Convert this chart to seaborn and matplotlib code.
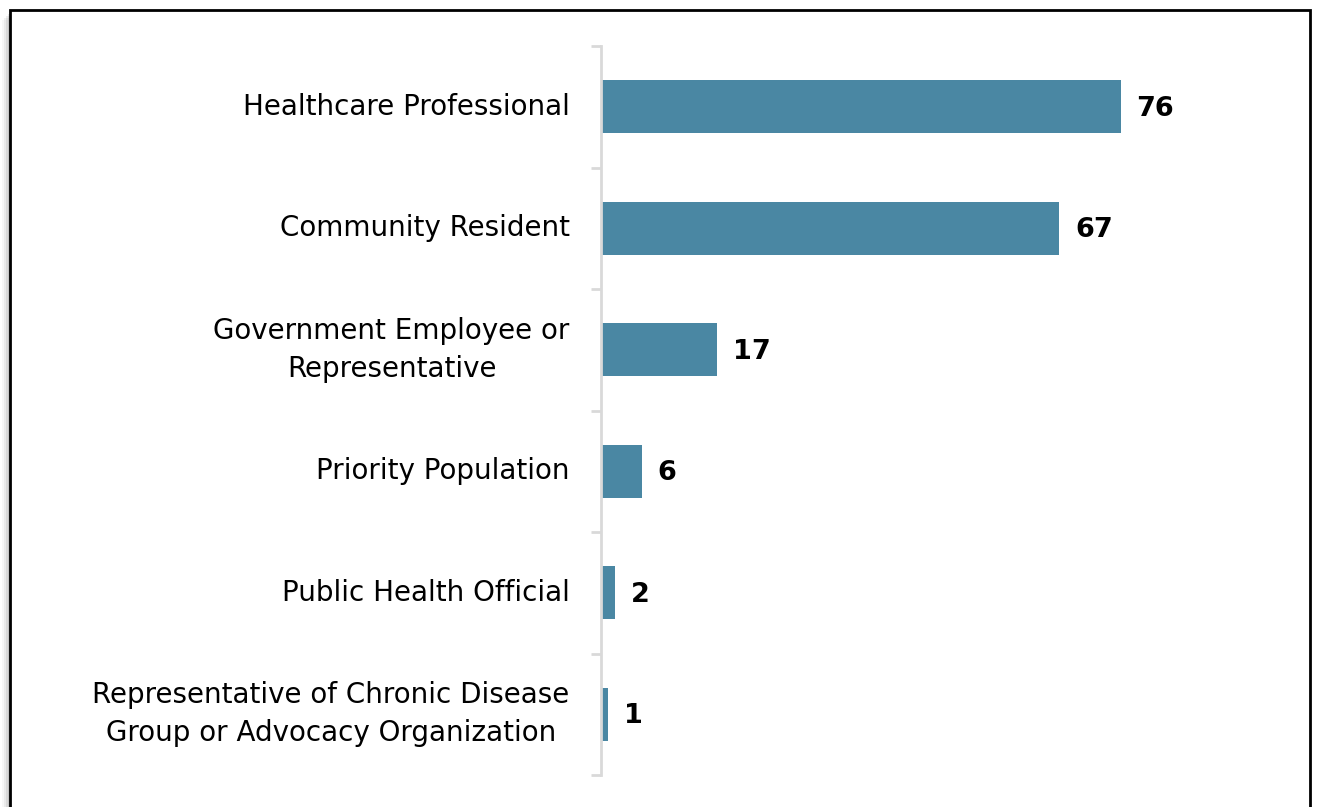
import matplotlib
matplotlib.use("Agg")
import matplotlib.pyplot as plt
import seaborn as sns
import pandas as pd
from matplotlib.patches import Rectangle

categories = [
    "Healthcare Professional",
    "Community Resident",
    "Government Employee or\nRepresentative",
    "Priority Population",
    "Public Health Official",
    "Representative of Chronic Disease\nGroup or Advocacy Organization",
]
counts = [76, 67, 17, 6, 2, 1]

bar_color = "#4a87a3"
axis_gray = "#d9d9d9"

sns.set_theme(style="white")
plt.rcParams["font.family"] = ["DejaVu Sans"]

df = pd.DataFrame({"category": categories, "count": counts})

fig = plt.figure(figsize=(13.18, 8.07), dpi=100)
ax = fig.add_axes([601 / 1318, 1 - 775 / 807, 684 / 1318, (775 - 46) / 807])
ax.set_zorder(5)

sns.barplot(data=df, x="count", y="category", color=bar_color, width=0.44,
            saturation=1, linewidth=0, ax=ax)

ax.set_xlim(0, 100)
ax.set_ylim(len(categories) - 0.5, -0.5)
ax.set_xlabel("")
ax.set_ylabel("")
ax.set_xticks([])

for s in ["top", "right", "bottom"]:
    ax.spines[s].set_visible(False)
ax.spines["left"].set_color(axis_gray)
ax.spines["left"].set_linewidth(2)

# category labels without tick marks; boundary ticks drawn as minor ticks
ax.tick_params(axis="y", which="major", left=True, length=0, pad=22.5,
               labelsize=20, labelcolor="black")
ax.set_yticks([i - 0.5 for i in range(len(categories) + 1)], minor=True)
ax.tick_params(axis="y", which="minor", left=True, length=7, width=2,
               color=axis_gray)
for lbl in ax.get_yticklabels():
    lbl.set_horizontalalignment("right")
    lbl.set_verticalalignment("center")
    lbl.set_multialignment("center")
    lbl.set_linespacing(1.45)

for i, v in enumerate(counts):
    ax.text(v + 2.3, i + 0.015, str(v), va="center", ha="left", fontsize=19.5,
            fontweight="bold", color="black")

# frame around the chart with a soft shadow on the left
for k, a in enumerate([0.03, 0.05, 0.07, 0.09]):
    fig.patches.append(Rectangle((2 + k * 2, 0), 8 - k * 2, 807 - 20 + 2 * k,
                                 transform=None, facecolor="black",
                                 edgecolor="none", alpha=a, zorder=0))
fig.patches.append(Rectangle((10 / 1318, -0.05), 1300 / 1318, 1.05 - 10 / 807,
                             transform=fig.transFigure, facecolor="none",
                             edgecolor="black", linewidth=2, zorder=1))

fig.savefig("out.png", dpi=100)
